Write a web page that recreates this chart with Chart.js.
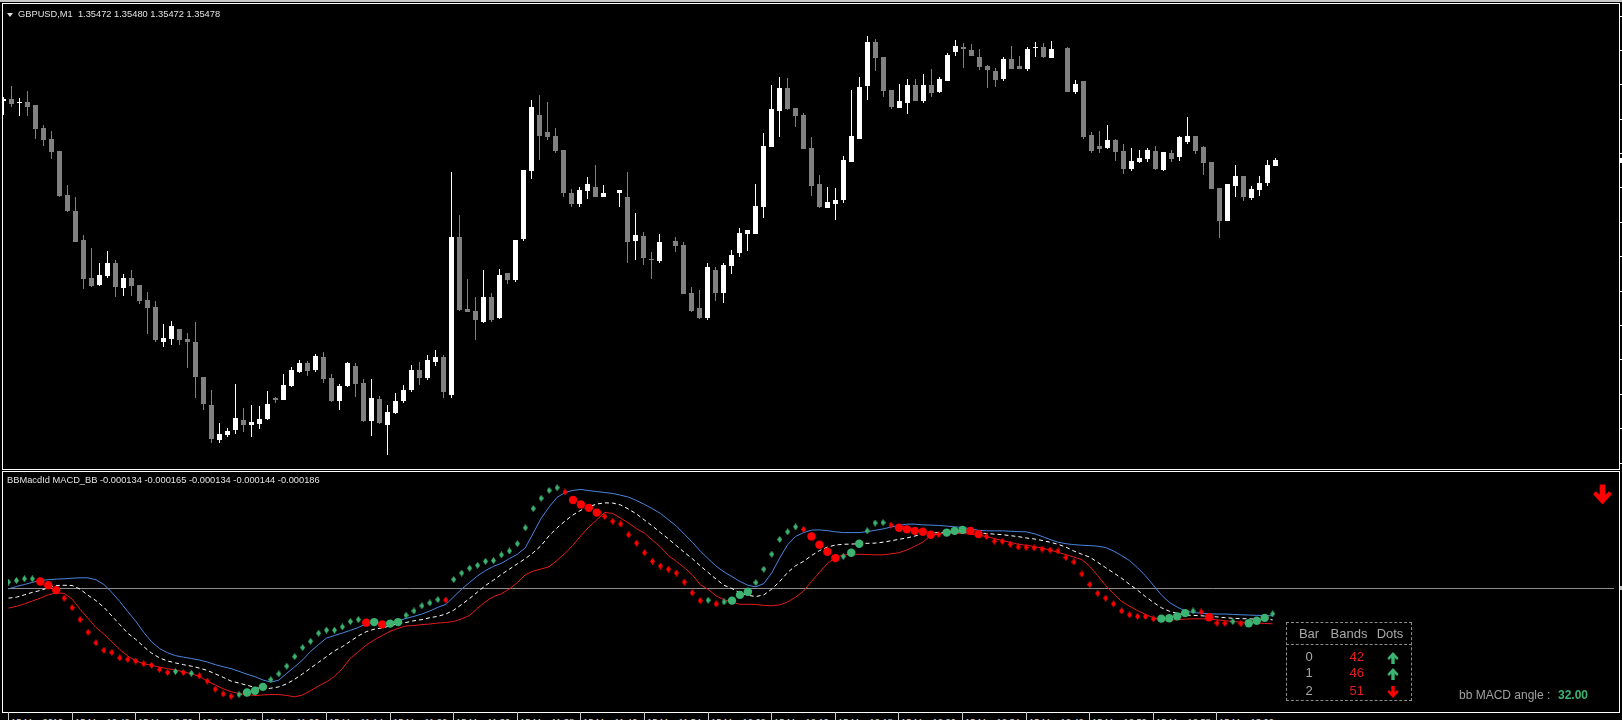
<!DOCTYPE html>
<html>
<head>
<meta charset="utf-8">
<title>GBPUSD,M1 - BBMacd</title>
<script src="https://cdn.jsdelivr.net/npm/chart.js@4.4.1/dist/chart.umd.min.js"></script>
<style>
  html, body { margin:0; padding:0; background:#000; width:1622px; height:720px; overflow:hidden; }
  body { position:relative; font-family:"Liberation Sans", Arial, sans-serif; color:#dcdcdc; }
  .a { position:absolute; }
  .frame { position:absolute; border:1px solid #ffffff; box-sizing:border-box; }
  .hdr { position:absolute; font-size:9.3px; line-height:11px; white-space:pre; color:#e2e2e2; }
  .tl { position:absolute; font-size:9.3px; line-height:11px; white-space:pre; color:#d8d8d8; }
  .tk { position:absolute; width:1px; background:#c8c8c8; }
  .tbl { position:absolute; font-size:13px; line-height:16px; color:#a8a8a8; text-align:center; white-space:pre; }
</style>
</head>
<body>
<div class="a" style="left:0;top:0;width:1622px;height:2px;background:#c8c8c8"></div>
<div class="frame" style="left:2px;top:3px;width:1618px;height:467px"></div>
<div class="frame" style="left:2px;top:471px;width:1618px;height:242px"></div>
<canvas id="cTop" class="a" style="left:3px;top:4px" width="1616" height="465"></canvas>
<canvas id="cInd" class="a" style="left:3px;top:472px" width="1616" height="240"></canvas>
<div id="overlay"></div>
<script>
// ---------------- DATA ----------------
const symbol = 'GBPUSD', period = 'M1';
// one-minute bars, 15 Mar 2019 10:34 ... 13:13 (null = bar not visible)
const open = [
1.35537,1.35539,1.35535,1.35536,1.35533,1.35510,1.35499,1.35487,1.35443,1.35427,
1.35398,1.35360,1.35353,1.35362,1.35375,1.35350,1.35360,1.35353,1.35338,1.35331,
1.35296,1.35299,1.35309,1.35299,1.35296,1.35261,1.35233,1.35198,1.35203,1.35208,
1.35218,1.35213,1.35214,1.35219,1.35240,1.35238,1.35252,1.35266,1.35275,1.35268,
1.35281,1.35260,1.35237,1.35252,1.35272,1.35255,1.35217,1.35239,1.35213,1.35225,
1.35237,1.35248,1.35268,1.35260,1.35276,1.35281,1.35243,1.35401,1.35329,1.35327,
1.35316,1.35341,1.35320,1.35365,1.35358,1.35399,1.35467,1.35523,1.35506,1.35502,
1.35488,1.35445,1.35434,1.35447,1.35451,1.35441,null,1.35445,1.35441,1.35397,
1.35402,1.35378,1.35377,null,1.35397,1.35393,1.35345,1.35330,1.35320,1.35368,
1.35345,1.35372,1.35385,1.35404,1.35404,1.35431,1.35491,1.35527,1.35550,1.35530,
1.35523,1.35490,1.35454,1.35430,1.35434,1.35438,1.35476,1.35499,1.35552,1.35596,
1.35581,1.35548,1.35530,1.35535,1.35553,1.35537,1.35553,1.35546,1.35557,1.35586,
1.35591,1.35588,1.35581,1.35572,1.35567,1.35559,1.35579,1.35572,1.35569,1.35590,
1.35591,1.35580,null,1.35590,1.35546,1.35557,1.35503,1.35492,1.35490,1.35498,
1.35487,1.35469,1.35476,1.35479,1.35487,1.35468,1.35485,1.35481,1.35496,1.35502,
1.35491,1.35476,1.35450,1.35417,1.35452,1.35462,1.35440,1.35448,1.35455,1.35472];
const high = [
1.35541,1.35552,1.35540,1.35547,1.35533,1.35513,1.35507,1.35487,1.35453,1.35441,
1.35403,1.35390,1.35375,1.35387,1.35378,1.35364,1.35368,1.35353,1.35346,1.35337,
1.35314,1.35317,1.35309,1.35305,1.35316,1.35261,1.35248,1.35215,1.35210,1.35254,
1.35230,1.35233,1.35232,1.35247,1.35241,1.35264,1.35271,1.35278,1.35277,1.35284,
1.35286,1.35264,1.35254,1.35276,1.35275,1.35259,1.35259,1.35242,1.35233,1.35245,
1.35253,1.35273,1.35276,1.35283,1.35288,1.35283,1.35466,1.35423,1.35359,1.35341,
1.35368,1.35345,1.35369,1.35365,1.35398,1.35468,1.35538,1.35543,1.35536,1.35510,
1.35488,1.35449,1.35451,1.35461,1.35473,1.35453,null,1.35448,1.35466,1.35425,
1.35406,1.35386,1.35404,null,1.35401,1.35396,1.35351,1.35348,1.35375,1.35371,
1.35375,1.35388,1.35410,1.35408,1.35454,1.35505,1.35553,1.35561,1.35560,1.35530,
1.35525,1.35501,1.35463,1.35451,1.35450,1.35482,1.35548,1.35561,1.35602,1.35599,
1.35581,1.35548,1.35554,1.35559,1.35559,1.35564,1.35569,1.35561,1.35585,1.35598,
1.35595,1.35594,1.35589,1.35573,1.35570,1.35581,1.35592,1.35582,1.35591,1.35596,
1.35595,1.35597,null,1.35591,1.35558,1.35557,1.35506,1.35507,1.35513,1.35499,
1.35494,1.35490,1.35488,1.35490,1.35492,1.35486,1.35488,1.35502,1.35521,1.35502,
1.35492,1.35476,1.35450,1.35454,1.35473,1.35462,1.35452,1.35462,1.35478,1.35480];
const low = [
1.35523,1.35531,1.35522,1.35522,1.35499,1.35492,1.35479,1.35441,1.35426,1.35396,
1.35349,1.35351,1.35352,1.35360,1.35341,1.35342,1.35342,1.35334,1.35304,1.35296,
1.35291,1.35293,1.35293,1.35270,1.35240,1.35228,1.35195,1.35195,1.35201,1.35204,
1.35206,1.35201,1.35209,1.35218,1.35235,1.35238,1.35251,1.35265,1.35262,1.35266,
1.35255,1.35236,1.35228,1.35251,1.35241,1.35216,1.35202,1.35214,1.35183,1.35224,
1.35235,1.35246,1.35253,1.35258,1.35272,1.35240,1.35240,1.35327,1.35326,1.35298,
1.35315,1.35316,1.35319,1.35354,1.35356,1.35397,1.35459,1.35478,1.35498,1.35485,
1.35441,1.35431,1.35431,1.35439,1.35441,1.35441,null,1.35431,1.35375,1.35378,
1.35373,1.35359,1.35375,null,1.35386,1.35344,1.35326,1.35319,1.35318,1.35337,
1.35335,1.35364,1.35381,1.35387,1.35404,1.35420,1.35491,1.35501,1.35528,1.35511,
1.35489,1.35442,1.35430,1.35430,1.35418,1.35435,1.35476,1.35499,1.35538,1.35567,
1.35541,1.35529,1.35530,1.35524,1.35537,1.35535,1.35541,1.35545,1.35557,1.35582,
1.35570,1.35582,1.35568,1.35550,1.35551,1.35557,1.35569,1.35569,1.35567,1.35581,
1.35580,1.35580,null,1.35546,1.35544,1.35499,1.35485,1.35485,1.35489,1.35477,
1.35464,1.35467,1.35475,1.35476,1.35468,1.35467,1.35476,1.35477,1.35494,1.35484,
1.35463,1.35449,1.35400,1.35417,1.35441,1.35437,1.35438,1.35442,1.35452,1.35472];
const close = [
1.35539,1.35534,1.35536,1.35531,1.35509,1.35498,1.35486,1.35442,1.35427,1.35396,
1.35359,1.35352,1.35363,1.35375,1.35351,1.35360,1.35352,1.35337,1.35330,1.35298,
1.35300,1.35312,1.35298,1.35296,1.35261,1.35234,1.35199,1.35204,1.35207,1.35220,
1.35213,1.35216,1.35219,1.35234,1.35238,1.35253,1.35268,1.35275,1.35267,1.35282,
1.35259,1.35237,1.35252,1.35275,1.35254,1.35217,1.35240,1.35215,1.35226,1.35237,
1.35248,1.35268,1.35260,1.35278,1.35281,1.35246,1.35401,1.35328,1.35326,1.35318,
1.35341,1.35318,1.35363,1.35358,1.35398,1.35468,1.35531,1.35502,1.35501,1.35487,
1.35445,1.35434,1.35448,1.35454,1.35441,1.35445,null,1.35448,1.35396,1.35403,
1.35380,1.35378,1.35396,null,1.35392,1.35344,1.35327,1.35320,1.35371,1.35345,
1.35373,1.35383,1.35405,1.35408,1.35432,1.35492,1.35529,1.35550,1.35529,1.35522,
1.35489,1.35452,1.35431,1.35436,1.35438,1.35478,1.35502,1.35551,1.35596,1.35580,
1.35547,1.35531,1.35537,1.35553,1.35537,1.35553,1.35545,1.35559,1.35583,1.35592,
1.35589,1.35582,1.35571,1.35568,1.35558,1.35579,1.35569,1.35569,1.35589,1.35591,
1.35581,1.35589,null,1.35546,1.35554,1.35501,1.35487,1.35489,1.35498,1.35486,
1.35469,1.35477,1.35480,1.35488,1.35469,1.35486,1.35479,1.35501,1.35502,1.35487,
1.35475,1.35449,1.35417,1.35454,1.35462,1.35441,1.35449,1.35455,1.35473,1.35478];

// BBMacd indicator buffers, in millionths (x 1e-6)
const UNIT = 1e-6;
const macd = [
32,40,49,49,35,15,-10,-52,-102,-164,
-230,-285,-324,-335,-364,-372,-380,-394,-402,-424,
-440,-435,-440,-444,-457,-485,-527,-552,-564,-555,
-544,-535,-515,-477,-447,-407,-357,-310,-277,-235,
-219,-219,-202,-174,-164,-180,-177,-189,-185,-177,
-141,-119,-92,-77,-60,-62,45,79,104,119,
140,144,174,194,232,315,415,469,510,524,
502,460,437,419,394,374,349,335,279,235,
185,140,115,99,79,32,-24,-65,-63,-82,
-72,-65,-35,-19,29,99,177,254,294,320,
307,270,227,190,157,165,185,232,299,340,
342,329,315,307,299,294,279,280,290,299,
304,299,282,270,245,244,229,215,213,210,
204,199,194,160,137,74,19,-27,-52,-82,
-119,-139,-147,-148,-160,-159,-157,-147,-130,-119,
-124,-152,-182,-183,-174,-185,-183,-170,-155,-134];
const upper = [
-4,9,19,30,40,44,47,49,52,54,
54,44,19,-22,-70,-122,-172,-230,-280,-315,
-337,-352,-360,-367,-375,-385,-399,-410,-420,-434,
-449,-462,-479,-490,-480,-444,-410,-374,-330,-294,
-260,-247,-234,-220,-205,-185,-180,-180,-177,-170,
-158,-147,-135,-119,-100,-85,-45,-5,30,64,
92,114,130,154,177,210,287,365,424,474,
499,510,515,509,504,499,494,485,475,457,
437,414,390,357,324,282,240,194,154,115,
85,60,35,15,7,24,80,157,227,270,
290,303,304,300,294,290,290,290,295,302,
309,319,327,334,334,330,329,327,324,320,
317,310,302,299,299,299,297,295,294,284,
270,254,240,232,227,224,222,219,212,194,
170,144,107,65,15,-35,-74,-99,-119,-127,
-130,-134,-135,-135,-137,-139,-140,-142,-143,-144];
const mid = [
-52,-47,-35,-22,-12,2,14,15,14,-5,
-37,-65,-100,-145,-190,-235,-267,-305,-339,-364,
-380,-390,-399,-407,-417,-429,-447,-465,-485,-495,
-507,-517,-527,-522,-515,-499,-475,-447,-417,-387,
-357,-327,-305,-277,-249,-227,-214,-207,-197,-185,
-179,-170,-164,-154,-147,-135,-115,-85,-54,-20,
14,42,72,99,127,154,185,222,274,315,
350,382,407,425,439,445,444,434,412,387,
355,324,290,257,222,187,154,117,82,47,
15,-2,-25,-37,-44,-35,-5,35,82,117,
140,170,196,214,225,229,230,232,234,235,
240,247,255,262,272,282,287,290,292,294,
292,292,289,285,282,279,274,269,262,257,
249,240,229,214,194,177,162,135,107,80,
52,20,-10,-44,-74,-102,-120,-132,-140,-142,
-144,-147,-150,-154,-157,-159,-160,-162,-163,-165];
const lower = [
-104,-95,-82,-67,-52,-35,-25,-27,-57,-110,
-157,-205,-240,-280,-320,-354,-379,-394,-402,-412,
-420,-427,-437,-447,-460,-485,-505,-525,-540,-550,
-555,-560,-557,-555,-555,-560,-567,-557,-535,-510,
-489,-460,-419,-365,-332,-297,-270,-247,-225,-210,
-197,-195,-190,-187,-182,-179,-174,-160,-142,-105,
-70,-44,-29,-4,29,70,89,100,112,145,
182,224,274,319,357,395,390,365,340,310,
287,250,215,170,140,107,70,19,-7,-40,
-60,-74,-84,-84,-85,-90,-92,-87,-72,-47,
-15,35,82,129,159,174,175,177,175,174,
174,179,185,199,219,240,274,284,287,287,
285,282,277,269,259,249,239,229,224,217,
210,199,187,175,162,149,114,65,14,-30,
-69,-94,-117,-137,-154,-169,-167,-164,-162,-160,
-160,-160,-165,-170,-174,-177,-180,-182,-184,-186];
// 1 = dot rising (green), 0 = falling (red)
const dotRising = [
1,1,1,1,0,0,0,0,0,0,
0,0,0,0,0,0,0,0,0,0,
0,1,0,1,0,0,0,0,0,1,
1,1,1,1,1,1,1,1,1,1,
1,1,1,1,1,0,1,0,1,1,
1,1,1,1,1,0,1,1,1,1,
1,1,1,1,1,1,1,1,1,1,
0,0,0,0,0,0,0,0,0,0,
0,0,0,0,0,0,0,0,1,0,
1,1,1,1,1,1,1,1,1,1,
0,0,0,0,0,1,1,1,1,1,
1,0,0,0,0,0,0,0,1,1,
1,0,0,0,0,0,0,0,0,0,
0,0,0,0,0,0,0,0,0,0,
0,0,0,0,0,1,1,1,1,1,
0,0,0,0,1,0,1,1,1,1];
// bars where the MACD dot sits on a band (large circle)
const circleBars = [4,5,6,30,31,32,45,46,47,48,49,71,72,73,74,91,92,93,101,102,103,104,106,107,
  112,113,114,115,116,118,119,120,121,122,145,146,147,148,151,156,157,158];

// time axis
const tickBars = [0,8,16,24,32,40,48,56,64,72,80,88,96,104,112,120,128,136,144,152];
const timeLabels = ['15 Mar 2019','15 Mar 10:42','15 Mar 10:50','15 Mar 10:58','15 Mar 11:06','15 Mar 11:14',
  '15 Mar 11:22','15 Mar 11:30','15 Mar 11:38','15 Mar 11:46','15 Mar 11:54','15 Mar 12:02','15 Mar 12:10',
  '15 Mar 12:18','15 Mar 12:26','15 Mar 12:34','15 Mar 12:42','15 Mar 12:50','15 Mar 12:58','15 Mar 13:06'];
const priceTicks = [1.35622,1.35588,1.35554,1.35519,1.35485,1.35451,1.35416,1.35382,1.35347,1.35313,1.35279,1.35244,1.35210,1.35175];

// info table
const tableBars = [0,1,2];
const tableBands = [42,46,51];
const tableDotsUp = [1,1,0];
const macdAngle = 32.00;

// ---------------- LAYOUT / STYLE ----------------
const X_MIN = -0.0625, X_MAX = 201.9375;
const PRICE_MIN = 1.35169, PRICE_MAX = 1.35634;
const IND_MIN = -620e-6, IND_MAX = 580e-6;
const BULL = '#ffffff', BEAR = '#808080';
const GREEN = '#3cb371', RED = '#ff0000';
const BLUE_LINE = '#4a86e0', RED_LINE = '#e31b1b';

const n = close.length;
const idx = [...Array(n).keys()].filter(i => open[i] !== null);
const candleColors = idx.map(i => close[i] > open[i] ? BULL : BEAR);

const baseOpts = {
  responsive:false, animation:false, devicePixelRatio:1, events:[],
  layout:{padding:0},
  plugins:{legend:{display:false}, tooltip:{enabled:false}, title:{display:false}}
};
const xScale = {type:'linear', min:X_MIN, max:X_MAX, offset:false, display:false, grid:{offset:false}};

const topChart = new Chart(document.getElementById('cTop'), {
  type:'bar',
  data:{ datasets:[
    { data: idx.map(i => ({x:i, y:[open[i], close[i]]})), backgroundColor: candleColors,
      barThickness:5, maxBarThickness:5, minBarLength:1, grouped:false, inflateAmount:0, borderWidth:0 },
    { data: idx.map(i => ({x:i, y:[low[i], high[i]]})), backgroundColor: candleColors,
      barThickness:1, maxBarThickness:1, minBarLength:1, grouped:false, inflateAmount:0, borderWidth:0 }
  ]},
  options: Object.assign({}, baseOpts, {
    scales:{
      x: xScale,
      y:{type:'linear', min:PRICE_MIN, max:PRICE_MAX, display:false}
    }
  })
});

function diamond(color){
  const c = document.createElement('canvas'); c.width = 5; c.height = 7;
  const g = c.getContext('2d'); g.fillStyle = color;
  g.beginPath(); g.moveTo(2.5,0); g.lineTo(5,3.5); g.lineTo(2.5,7); g.lineTo(0,3.5); g.closePath(); g.fill();
  return c;
}
const dG = diamond(GREEN), dR = diamond(RED);
const pts = arr => arr.map((v,i) => ({x:i, y:v*UNIT}));

const zeroLine = {
  id:'zeroLine',
  beforeDatasetsDraw(chart){
    const y = Math.round(chart.scales.y.getPixelForValue(0)) + 0.5;
    const ctx = chart.ctx; ctx.save();
    ctx.strokeStyle = '#8c8c8c'; ctx.lineWidth = 1;
    ctx.beginPath(); ctx.moveTo(chart.chartArea.left, y); ctx.lineTo(chart.chartArea.right, y); ctx.stroke();
    ctx.restore();
  }
};

const indChart = new Chart(document.getElementById('cInd'), {
  type:'line',
  data:{ datasets:[
    { data: circleBars.map(i => ({x:i, y:macd[i]*UNIT})), showLine:false, pointStyle:'circle', pointRadius:4.2,
      pointBackgroundColor: circleBars.map(i => dotRising[i] ? GREEN : RED), pointBorderWidth:0, order:0 },
    { data: pts(macd), showLine:false, pointStyle: macd.map((v,i) => dotRising[i] ? dG : dR), pointRadius:3, order:1 },
    { data: pts(upper), borderColor:BLUE_LINE, borderWidth:1, pointRadius:0, order:2 },
    { data: pts(mid), borderColor:'#ffffff', borderWidth:1, borderDash:[4,3], pointRadius:0, order:3 },
    { data: pts(lower), borderColor:RED_LINE, borderWidth:1, pointRadius:0, order:4 }
  ]},
  options: Object.assign({}, baseOpts, {
    scales:{
      x: xScale,
      y:{type:'linear', min:IND_MIN, max:IND_MAX, display:false}
    }
  }),
  plugins:[zeroLine]
});

// ---------------- OVERLAYS (text, ticks, table) ----------------
const ov = document.getElementById('overlay');
function add(cls, style, text, html){
  const d = document.createElement('div');
  if (cls) d.className = cls;
  d.style.position = 'absolute';
  Object.assign(d.style, style);
  if (html) d.innerHTML = html; else if (text !== undefined) d.textContent = text;
  ov.appendChild(d); return d;
}
const last = n - 1;
// main header
add('', {left:'7px', top:'13px', width:'0', height:'0', borderLeft:'3px solid transparent', borderRight:'3px solid transparent', borderTop:'4px solid #e2e2e2'});
add('hdr', {left:'18px', top:'9px'}, `${symbol},${period}  ${open[last].toFixed(5)} ${high[last].toFixed(5)} ${low[last].toFixed(5)} ${close[last].toFixed(5)}`);
// indicator header
const f6 = v => (v*UNIT).toFixed(6);
add('hdr', {left:'7px', top:'475px'}, `BBMacdId MACD_BB ${f6(macd[last])} ${f6(mid[last])} ${f6(macd[last])} ${f6(upper[last])} ${f6(lower[last])}`);

// time axis ticks and labels
const xs = indChart.scales.x;
tickBars.forEach((b,k) => {
  const px = Math.floor(3 + xs.getPixelForValue(b));
  add('tk', {left: px+'px', top:'712px', height:'8px'});
  add('tl', {left:(px+3)+'px', top:'717px'}, timeLabels[k]);
});
// price axis ticks (right edge)
const ys = topChart.scales.y;
priceTicks.forEach(p => {
  const py = Math.round(4 + ys.getPixelForValue(p));
  add('', {left:'1620px', top:py+'px', width:'2px', height:'1px', background:'#ffffff'});
});
const cy = Math.round(4 + ys.getPixelForValue(close[last]));
add('', {left:'1620px', top:(cy-2)+'px', width:'2px', height:'5px', background:'#ffffff'});
const zy = Math.round(472 + indChart.scales.y.getPixelForValue(0));
add('', {left:'1620px', top:(zy-2)+'px', width:'2px', height:'4px', background:'#bdbdbd'});

// arrows
function arrow(up, color, w, h){
  return `<svg width="${w}" height="${h}" viewBox="0 0 20 21" style="display:block">` +
    `<path d="M7,0 H13 V11 L17,7 L20,10 L10,21 L0,10 L3,7 L7,11 Z" fill="${color}"` +
    (up ? ' transform="rotate(180 10 10.5)"' : '') + `/></svg>`;
}
add('', {left:'1593px', top:'484px'}, undefined, arrow(false, RED, 19, 21));

// table
add('', {left:'1286px', top:'622px', width:'126px', height:'79px', border:'1px dashed #8c8c8c', boxSizing:'border-box'});
add('', {left:'1286px', top:'644px', width:'126px', height:'0', borderTop:'1px dashed #8c8c8c'});
add('tbl', {left:'1289px', top:'626px', width:'40px'}, 'Bar');
add('tbl', {left:'1329px', top:'626px', width:'40px'}, 'Bands');
add('tbl', {left:'1370px', top:'626px', width:'40px'}, 'Dots');
const rowTop = [649, 665, 683];
tableBars.forEach((b,r) => {
  add('tbl', {left:'1289px', top:rowTop[r]+'px', width:'40px'}, String(b));
  add('tbl', {left:'1330px', top:rowTop[r]+'px', width:'34px', textAlign:'right', color:'#e01e1e'}, String(tableBands[r]));
  add('', {left:'1387px', top:(rowTop[r]+3)+'px'}, undefined, arrow(!!tableDotsUp[r], tableDotsUp[r] ? GREEN : RED, 12, 12));
});
add('', {left:'1459px', top:'688px', fontSize:'12px', lineHeight:'14px', color:'#a0a0a0', whiteSpace:'pre'}, 'bb MACD angle :');
add('', {left:'1558px', top:'688px', fontSize:'12px', lineHeight:'14px', color:GREEN, fontWeight:'bold'}, macdAngle.toFixed(2));
</script>
</body>
</html>
